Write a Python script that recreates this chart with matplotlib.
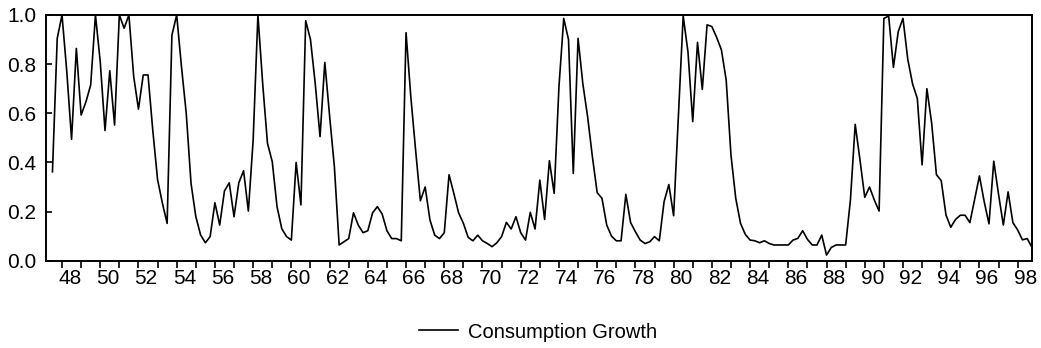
import numpy as np
import matplotlib
matplotlib.use("Agg")
import matplotlib.pyplot as plt

plt.rcParams['font.family'] = ['Liberation Sans', 'DejaVu Sans']

# quarterly series, 1947Q3 .. 1998Q4
start_year = 1947
start_quarter = 3
consumption_growth = [
    0.362, 0.905, 1.0, 0.77, 0.494, 0.864, 0.593, 0.646, 0.715, 1.0,
    0.81, 0.53, 0.773, 0.552, 1.0, 0.946, 1.0, 0.75, 0.617, 0.756,
    0.756, 0.53, 0.33, 0.235, 0.152, 0.918, 1.0, 0.79, 0.6, 0.315,
    0.18, 0.105, 0.073, 0.098, 0.236, 0.145, 0.284, 0.317, 0.179, 0.317,
    0.366, 0.202, 0.49, 1.0, 0.72, 0.478, 0.403, 0.22, 0.13, 0.098,
    0.084, 0.40, 0.227, 0.977, 0.90, 0.72, 0.505, 0.807, 0.59, 0.383,
    0.064, 0.077, 0.09, 0.195, 0.145, 0.114, 0.122, 0.195, 0.22, 0.19,
    0.122, 0.09, 0.09, 0.081, 0.928, 0.667, 0.45, 0.244, 0.30, 0.166,
    0.104, 0.09, 0.114, 0.35, 0.274, 0.195, 0.152, 0.095, 0.081, 0.104,
    0.081, 0.07, 0.057, 0.073, 0.098, 0.156, 0.129, 0.179, 0.114, 0.084,
    0.197, 0.129, 0.328, 0.168, 0.407, 0.274, 0.708, 0.986, 0.90, 0.355,
    0.905, 0.72, 0.586, 0.423, 0.277, 0.254, 0.145, 0.10, 0.081, 0.081,
    0.27, 0.155, 0.118, 0.084, 0.07, 0.077, 0.098, 0.081, 0.24, 0.31,
    0.183, 0.59, 0.996, 0.85, 0.566, 0.889, 0.697, 0.96, 0.953, 0.909,
    0.858, 0.735, 0.43, 0.254, 0.152, 0.107, 0.084, 0.081, 0.073, 0.081,
    0.07, 0.064, 0.064, 0.064, 0.064, 0.084, 0.091, 0.122, 0.087, 0.064,
    0.064, 0.104, 0.023, 0.054, 0.064, 0.064, 0.064, 0.247, 0.555, 0.41,
    0.258, 0.30, 0.247, 0.202, 0.986, 0.996, 0.787, 0.932, 0.986, 0.82,
    0.72, 0.66, 0.39, 0.70, 0.56, 0.35, 0.326, 0.186, 0.136, 0.168,
    0.185, 0.185, 0.155, 0.25, 0.345, 0.24, 0.15, 0.405, 0.27, 0.145,
    0.28, 0.155, 0.125, 0.085, 0.09, 0.054,
]
year_labels = ['48', '50', '52', '54', '56', '58', '60', '62', '64', '66', '68',
               '70', '72', '74', '76', '78', '80', '82', '84', '86', '88', '90',
               '92', '94', '96', '98']
y_ticks = [0.0, 0.2, 0.4, 0.6, 0.8, 1.0]

n = len(consumption_growth)
t = np.arange(n)
first_q1 = (4 - start_quarter + 1) % 4  # index of first Q1 observation

fig = plt.figure(figsize=(10.41, 3.48), dpi=100)
ax = fig.add_axes([46 / 1041, 1 - 260.7 / 348, (1032 - 46) / 1041, (260.7 - 15) / 348])

line, = ax.plot(t, consumption_growth, color='black', linewidth=1.2)

ax.set_xlim(-1.35, n - 1)
ax.set_ylim(0, 1)

# year ticks (no labels), labels every two years a bit to the right
year_pos = np.arange(first_q1, n, 4)
ax.set_xticks(year_pos)
ax.set_xticklabels([])
ax.tick_params(axis='x', which='major', direction='out', length=5, width=1.2)
label_pos = [first_q1 + 8 * k + 1.6 for k in range(len(year_labels))]
ax.set_xticks(label_pos, minor=True)
ax.set_xticklabels(year_labels, minor=True, fontsize=15)
ax.tick_params(axis='x', which='minor', length=0, pad=6)

ax.set_yticks(y_ticks)
ax.set_yticklabels(['%.1f' % v for v in y_ticks], fontsize=15)
ax.tick_params(axis='y', direction='in', length=4, width=1.2, pad=7)

for s in ax.spines.values():
    s.set_linewidth(1.4)

fig.legend([line], ['Consumption Growth'], loc='center',
           bbox_to_anchor=(538 / 1041, 1 - 332 / 348), frameon=False,
           fontsize=14.5, handlelength=1.9, handletextpad=0.5)

fig.savefig('out.png', dpi=100)
